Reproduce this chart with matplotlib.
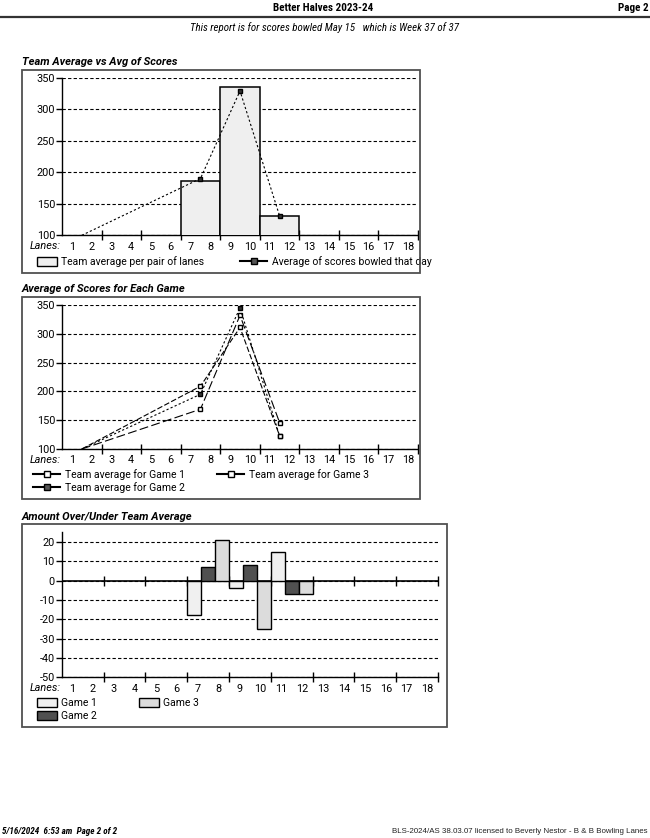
import matplotlib
matplotlib.use("Agg")
import matplotlib.pyplot as plt
import numpy as np
from matplotlib.patches import Rectangle, Patch
from matplotlib.lines import Line2D
from matplotlib.legend import Legend

plt.rcParams['font.family'] = ['Roboto', 'DejaVu Sans']
COND = ['Roboto Condensed', 'Roboto', 'DejaVu Sans']

# ---------------- data ----------------
lanes = list(range(1, 19))
lane_labels = [str(n) for n in lanes]
pair_bounds = [2.5, 4.5, 6.5, 8.5, 10.5, 12.5, 14.5, 16.5, 18.5]

# first lane of each lane pair that has scores
line_pairs = [1, 7, 9, 11]
avg_scores = [100, 190, 329, 131]          # average of scores bowled that day
bar_pairs = [7, 9, 11]
team_avg = [186, 335, 130]                 # team average per pair of lanes

game1 = [100, 169, 332, 146]
game2 = [100, 195, 345, 123]
game3 = [100, 209, 311, 123]

over_g1 = [-18, -4, 15]
over_g2 = [7, 8, -7]
over_g3 = [21, -25, -7]

# ---------------- figure ----------------
W, H = 650, 838
fig = plt.figure(figsize=(W / 100, H / 100), dpi=100)


def rect(x0, y0, x1, y1):
    return [x0 / W, 1 - y1 / H, (x1 - x0) / W, (y1 - y0) / H]


def fp(x, y):
    return x / W, 1 - y / H


def box(x0, y0, x1, y1):
    fig.patches.append(Rectangle(fp(x0, y1), (x1 - x0) / W, (y1 - y0) / H,
                                 transform=fig.transFigure, fill=False,
                                 edgecolor='#505050', linewidth=1.3))


TICK_FS = 7.8
LEG_FS = 7.5
TITLE_FS = 8.0


def style_axis(ax, ylo, yhi, yticks):
    ax.set_xlim(0.5, 18.5)
    ax.set_ylim(ylo, yhi)
    ax.set_yticks(yticks)
    ax.set_yticklabels([str(t) for t in yticks], fontsize=TICK_FS)
    ax.set_xticks(lanes)
    ax.set_xticklabels(lane_labels, fontsize=TICK_FS)
    ax.set_xticks(pair_bounds, minor=True)
    ax.tick_params(axis='x', which='major', length=0, pad=4.5)
    ax.tick_params(axis='x', which='minor', direction='inout', length=7, width=1)
    ax.tick_params(axis='y', which='major', direction='out', length=4, width=1, pad=1)
    for s in ['top', 'right']:
        ax.spines[s].set_visible(False)
    for s in ['left', 'bottom']:
        ax.spines[s].set_linewidth(1.0)
        ax.spines[s].set_color('black')
    ax.grid(axis='y', color='black', linestyle=(0, (3, 2)), linewidth=0.8)
    ax.set_axisbelow(False)
    ax.patch.set_alpha(0)


def lanes_label(axis_y):
    fig.text(*fp(61, axis_y + 11), 'Lanes:', ha='right', va='center',
             fontsize=TICK_FS, style='italic')


def legend(ax, handles, labels, x, y, hl=1.8, hh=0.9):
    lg = Legend(ax, handles, labels, loc='upper left', bbox_to_anchor=fp(x, y),
                bbox_transform=fig.transFigure, frameon=False, fontsize=LEG_FS,
                borderpad=0, borderaxespad=0, handlelength=hl, handleheight=hh,
                handletextpad=0.45, labelspacing=0.25)
    ax.add_artist(lg)
    return lg


# ---------------- header / footer ----------------
fig.text(*fp(323, 8), 'Better Halves 2023-24', ha='center', va='center',
         fontsize=8.0, fontweight='bold', family=COND)
fig.text(*fp(649, 8), 'Page 2', ha='right', va='center', fontsize=8.0,
         fontweight='bold', family=COND)
fig.add_artist(Line2D([0, 1], [1 - 17 / H, 1 - 17 / H], transform=fig.transFigure,
                      color='#333333', linewidth=1.6))
fig.text(*fp(325, 28), 'This report is for scores bowled May 15   which is Week 37 of 37',
         ha='center', va='center', fontsize=7.8, style='italic', family=COND)

fig.text(*fp(2, 831), '5/16/2024  6:53 am  Page 2 of 2', ha='left', va='center',
         fontsize=6.6, fontweight='bold', style='italic', family=COND)
fig.text(*fp(648, 831), 'BLS-2024/AS 38.03.07 licensed to Beverly Nestor - B & B Bowling Lanes',
         ha='right', va='center', fontsize=5.7, color='#222222',
         family=['Liberation Sans', 'DejaVu Sans'])

# ---------------- chart 1 ----------------
fig.text(*fp(22, 62), 'Team Average vs Avg of Scores', ha='left', va='center',
         fontsize=TITLE_FS, fontweight='bold', style='italic')
box(21.5, 70, 420, 273)
ax1 = fig.add_axes(rect(62, 77.7, 418, 235.3))
style_axis(ax1, 100, 350, [100, 150, 200, 250, 300, 350])
ax1.bar([p + 0.5 for p in bar_pairs], team_avg, width=2, color='#efefef',
        edgecolor='black', linewidth=1.1, zorder=3)
ax1.plot([p + 0.5 for p in line_pairs], avg_scores, color='black', linewidth=0.8,
         linestyle=(0, (2, 2)), marker='s', markersize=3, markerfacecolor='#333333',
         markeredgecolor='black', markevery=[1, 2, 3], zorder=4, clip_on=False)
lanes_label(235.3)
legend(ax1, [Patch(facecolor='#efefef', edgecolor='black', linewidth=1)],
       ['Team average per pair of lanes'], 37, 256, hl=1.9, hh=1.0)
legend(ax1, [Line2D([], [], color='black', linewidth=1.5, marker='s', markersize=4,
                    markerfacecolor='#555555', markeredgecolor='black')],
       ['Average of scores bowled that day'], 240, 256, hl=2.6)

# ---------------- chart 2 ----------------
fig.text(*fp(22, 289), 'Average of Scores for Each Game', ha='left', va='center',
         fontsize=TITLE_FS, fontweight='bold', style='italic')
box(21.5, 297, 420, 499)
ax2 = fig.add_axes(rect(62, 305, 418, 449))
style_axis(ax2, 100, 350, [100, 150, 200, 250, 300, 350])
xs = [p + 0.5 for p in line_pairs]
ax2.plot(xs, game1, color='black', linewidth=0.8, linestyle=(0, (8, 3)),
         marker='s', markersize=3, markerfacecolor='white', markeredgecolor='black',
         markevery=[1, 2, 3], zorder=4, clip_on=False)
ax2.plot(xs, game2, color='black', linewidth=0.8, linestyle=(0, (2, 2)),
         marker='s', markersize=3, markerfacecolor='#333333', markeredgecolor='black',
         markevery=[1, 2, 3], zorder=4, clip_on=False)
ax2.plot(xs, game3, color='black', linewidth=0.8, linestyle=(0, (5, 2)),
         marker='s', markersize=3, markerfacecolor='white', markeredgecolor='black',
         markevery=[1, 2, 3], zorder=4, clip_on=False)
lanes_label(449)
h_open = Line2D([], [], color='black', linewidth=1.5, marker='s', markersize=4,
                markerfacecolor='white', markeredgecolor='black')
h_fill = Line2D([], [], color='black', linewidth=1.5, marker='s', markersize=4,
                markerfacecolor='#555555', markeredgecolor='black')
legend(ax2, [h_open, h_fill], ['Team average for Game 1', 'Team average for Game 2'],
       33, 469, hl=2.6)
legend(ax2, [h_open], ['Team average for Game 3'], 217, 469, hl=2.6)

# ---------------- chart 3 ----------------
fig.text(*fp(22, 516.5), 'Amount Over/Under Team Average', ha='left', va='center',
         fontsize=TITLE_FS, fontweight='bold', style='italic')
box(21.5, 524, 447, 727)
ax3 = fig.add_axes(rect(61.7, 532.3, 438, 677.3))
style_axis(ax3, -50, 25, [-50, -40, -30, -20, -10, 0, 10, 20])
bw = 2 / 3
centers = np.array([p + 0.5 for p in bar_pairs])
ax3.bar(centers - bw, over_g1, width=bw, color='#f0f0f0', edgecolor='black',
        linewidth=1.0, zorder=3)
ax3.bar(centers, over_g2, width=bw, color='#505050', edgecolor='black',
        linewidth=1.0, zorder=3)
ax3.bar(centers + bw, over_g3, width=bw, color='#dcdcdc', edgecolor='black',
        linewidth=1.0, zorder=3)
ax3.axhline(0, color='black', linewidth=1.2, zorder=2)
sec = ax3.secondary_xaxis(50 / 75)
sec.set_xticks(pair_bounds)
sec.set_xticklabels([])
sec.tick_params(direction='inout', length=7, width=1)
sec.spines['bottom'].set_visible(False)
sec.spines['top'].set_visible(False)
lanes_label(677.3)
legend(ax3, [Patch(facecolor='#f0f0f0', edgecolor='black', linewidth=1),
             Patch(facecolor='#505050', edgecolor='black', linewidth=1)],
       ['Game 1', 'Game 2'], 37, 698, hl=1.9, hh=1.0)
legend(ax3, [Patch(facecolor='#dcdcdc', edgecolor='black', linewidth=1)],
       ['Game 3'], 139, 698, hl=1.9, hh=1.0)

fig.savefig('out.png', dpi=100)
